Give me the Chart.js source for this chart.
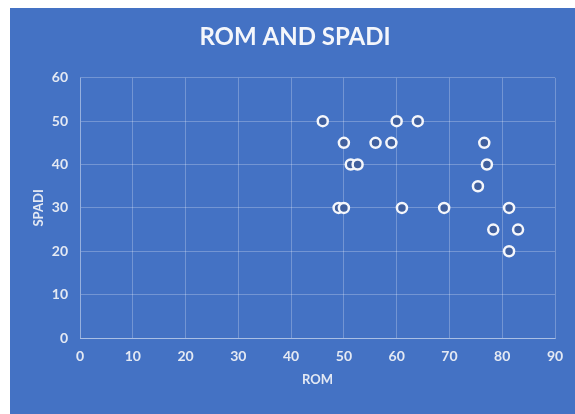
<!DOCTYPE html>
<html>
<head>
<meta charset="utf-8">
<script src="https://cdn.jsdelivr.net/npm/chart.js@4.4.1/dist/chart.umd.min.js"></script>
<style>
    html, body { margin: 0; padding: 0; background: #fff; overflow: hidden; }
    #wrap { position: absolute; left: 10px; top: 8px; width: 565px; height: 406px; background: #4472c4; }
</style>
</head>
<body>
<div id="wrap"><canvas id="chart" width="565" height="406"></canvas></div>
<script>
const romValues = [46, 50, 51.3, 52.6, 49, 50, 56, 59, 60, 64, 61, 69, 76.6, 77.1, 75.4, 81.3, 78.3, 83, 81.3];
const spadiValues = [50, 45, 40, 40, 30, 30, 45, 45, 50, 50, 30, 30, 45, 40, 35, 30, 25, 25, 20];
const xTicks = [0, 10, 20, 30, 40, 50, 60, 70, 80, 90];
const yTicks = [0, 10, 20, 30, 40, 50, 60];

const points = romValues.map((x, i) => ({ x: x, y: spadiValues[i] }));
const textColor = '#e4e9f3';
const gridColor = 'rgba(255, 255, 255, 0.25)';

const ctx = document.getElementById('chart').getContext('2d');
new Chart(ctx, {
    type: 'scatter',
    data: {
        datasets: [{
            label: 'SPADI',
            data: points,
            pointRadius: 5,
            pointHoverRadius: 5,
            pointBorderWidth: 2.5,
            pointBorderColor: '#f4f6fb',
            pointBackgroundColor: '#3f5f9e'
        }]
    },
    options: {
        responsive: false,
        animation: false,
        layout: { padding: { top: 0, right: 0, bottom: 0, left: 5 } },
        scales: {
            x: {
                type: 'linear',
                min: 0,
                max: 90,
                afterBuildTicks: axis => { axis.ticks = xTicks.map(v => ({ value: v })); },
                afterFit: axis => { axis.height = 76; },
                ticks: { color: textColor, font: { family: 'Lato', size: 14, weight: 'bold' }, padding: 10, maxRotation: 0 },
                grid: { color: gridColor, drawTicks: false },
                border: { color: 'rgba(255, 255, 255, 0.4)' },
                title: { display: true, text: 'ROM', color: textColor, font: { family: 'Lato', size: 13, weight: 'bold' }, padding: { top: 0, bottom: 26 } }
            },
            y: {
                type: 'linear',
                min: 0,
                max: 60,
                afterBuildTicks: axis => { axis.ticks = yTicks.map(v => ({ value: v })); },
                afterFit: axis => { axis.width = 65; },
                ticks: { color: textColor, font: { family: 'Lato', size: 14, weight: 'bold' }, padding: 12 },
                grid: { color: gridColor, drawTicks: false },
                border: { color: gridColor },
                title: { display: true, text: 'SPADI', color: textColor, font: { family: 'Lato', size: 13, weight: 'bold' }, padding: { top: 16, bottom: 0 } }
            },
            yRight: {
                type: 'linear',
                position: 'right',
                afterFit: axis => { axis.width = 20; },
                ticks: { display: false },
                grid: { display: false },
                border: { display: false }
            }
        },
        plugins: {
            legend: { display: false },
            tooltip: { enabled: false },
            title: {
                display: true,
                text: 'ROM AND SPADI',
                color: '#f4f6fb',
                font: { family: 'Lato', size: 24, weight: 'bold' },
                padding: { top: 15, bottom: 26 }
            }
        }
    }
});
</script>
</body>
</html>
